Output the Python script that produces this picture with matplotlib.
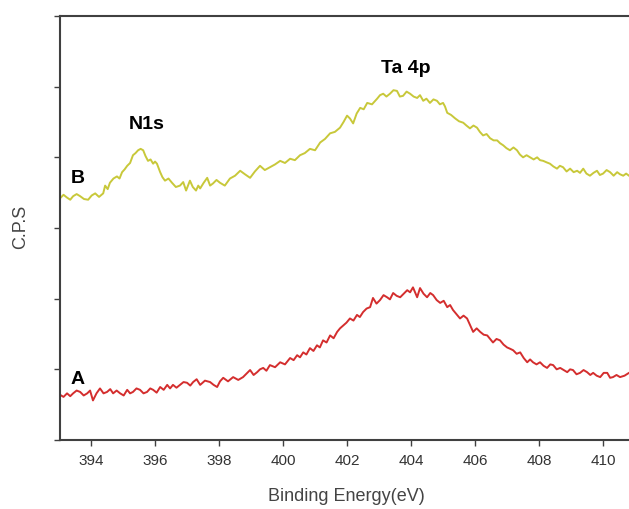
import matplotlib
matplotlib.use('Agg')
import matplotlib.pyplot as plt

# binding energy (eV) and intensity (arb. units)
energia_b = [393.03, 393.14, 393.25, 393.35, 393.44, 393.55, 393.66, 393.78, 393.91, 394.02,
             394.13, 394.25, 394.38, 394.44, 394.52, 394.59, 394.70, 394.81, 394.89, 394.97,
             395.05, 395.13, 395.22, 395.31, 395.39, 395.47, 395.55, 395.63, 395.70, 395.78,
             395.86, 395.94, 396.00, 396.06, 396.11, 396.16, 396.23, 396.31, 396.42, 396.53,
             396.65, 396.78, 396.88, 396.97, 397.03, 397.09, 397.18, 397.28, 397.35, 397.41,
             397.52, 397.63, 397.72, 397.81, 397.92, 398.03, 398.18, 398.34, 398.50, 398.66,
             398.81, 398.97, 399.12, 399.28, 399.43, 399.59, 399.75, 399.91, 400.06, 400.22,
             400.37, 400.53, 400.68, 400.84, 401.00, 401.16, 401.31, 401.47, 401.62, 401.78,
             401.89, 402.00, 402.09, 402.19, 402.30, 402.41, 402.52, 402.63, 402.78, 402.94,
             403.03, 403.13, 403.23, 403.34, 403.45, 403.56, 403.65, 403.75, 403.86, 403.97,
             404.08, 404.19, 404.28, 404.38, 404.48, 404.59, 404.70, 404.81, 404.90, 405.00,
             405.06, 405.13, 405.25, 405.38, 405.50, 405.63, 405.73, 405.84, 405.95, 406.06,
             406.15, 406.25, 406.36, 406.47, 406.58, 406.69, 406.78, 406.88, 406.98, 407.09,
             407.20, 407.31, 407.40, 407.50, 407.61, 407.72, 407.83, 407.94, 408.03, 408.13,
             408.23, 408.34, 408.45, 408.56, 408.65, 408.75, 408.86, 408.97, 409.08, 409.19,
             409.28, 409.38, 409.48, 409.59, 409.70, 409.81, 409.90, 410.00, 410.11, 410.22,
             410.33, 410.44, 410.53, 410.63, 410.72, 410.81]
cps_b = [3.42, 3.47, 3.43, 3.40, 3.45, 3.48, 3.45, 3.41, 3.40, 3.46,
         3.49, 3.44, 3.49, 3.60, 3.55, 3.64, 3.70, 3.73, 3.70, 3.79,
         3.83, 3.88, 3.92, 4.03, 4.06, 4.10, 4.12, 4.10, 4.02, 3.95,
         3.97, 3.91, 3.94, 3.91, 3.85, 3.79, 3.72, 3.67, 3.70, 3.64,
         3.58, 3.60, 3.65, 3.53, 3.60, 3.67, 3.58, 3.53, 3.60, 3.56,
         3.64, 3.71, 3.60, 3.63, 3.68, 3.64, 3.60, 3.70, 3.74, 3.81,
         3.76, 3.71, 3.80, 3.88, 3.82, 3.86, 3.90, 3.95, 3.92, 3.98,
         3.96, 4.03, 4.06, 4.12, 4.10, 4.21, 4.26, 4.34, 4.36, 4.42,
         4.50, 4.59, 4.55, 4.48, 4.62, 4.70, 4.68, 4.77, 4.75, 4.83,
         4.88, 4.90, 4.86, 4.90, 4.95, 4.94, 4.86, 4.87, 4.93, 4.90,
         4.86, 4.84, 4.88, 4.80, 4.83, 4.77, 4.82, 4.80, 4.75, 4.77,
         4.72, 4.63, 4.60, 4.55, 4.51, 4.49, 4.45, 4.41, 4.45, 4.42,
         4.36, 4.31, 4.33, 4.27, 4.24, 4.24, 4.20, 4.17, 4.13, 4.10,
         4.14, 4.10, 4.04, 4.00, 4.03, 4.00, 3.97, 4.00, 3.96, 3.95,
         3.93, 3.91, 3.87, 3.84, 3.88, 3.86, 3.80, 3.84, 3.79, 3.81,
         3.78, 3.84, 3.77, 3.74, 3.78, 3.81, 3.75, 3.77, 3.82, 3.79,
         3.74, 3.79, 3.76, 3.74, 3.77, 3.74]

energia_a = [393.03, 393.14, 393.25, 393.35, 393.44, 393.55, 393.66, 393.77, 393.88, 393.97,
             394.06, 394.17, 394.28, 394.39, 394.50, 394.60, 394.69, 394.80, 394.91, 395.02,
             395.13, 395.22, 395.31, 395.42, 395.53, 395.64, 395.75, 395.85, 395.94, 396.05,
             396.16, 396.27, 396.38, 396.47, 396.56, 396.67, 396.78, 396.89, 397.00, 397.10,
             397.19, 397.30, 397.41, 397.56, 397.72, 397.83, 397.94, 398.03, 398.13, 398.28,
             398.44, 398.60, 398.75, 398.86, 398.97, 399.08, 399.19, 399.28, 399.38, 399.48,
             399.59, 399.75, 399.91, 400.06, 400.22, 400.33, 400.44, 400.53, 400.63, 400.73,
             400.84, 400.95, 401.06, 401.15, 401.25, 401.36, 401.47, 401.58, 401.69, 401.78,
             401.88, 401.98, 402.09, 402.20, 402.31, 402.40, 402.50, 402.61, 402.72, 402.81,
             402.92, 403.03, 403.14, 403.25, 403.34, 403.44, 403.55, 403.66, 403.77, 403.88,
             403.97, 404.06, 404.19, 404.28, 404.39, 404.50, 404.60, 404.69, 404.80, 404.91,
             405.02, 405.13, 405.22, 405.31, 405.42, 405.53, 405.64, 405.75, 405.85, 405.94,
             406.05, 406.16, 406.27, 406.38, 406.47, 406.56, 406.67, 406.78, 406.89, 407.00,
             407.10, 407.19, 407.30, 407.41, 407.52, 407.63, 407.72, 407.81, 407.92, 408.03,
             408.14, 408.25, 408.35, 408.44, 408.55, 408.66, 408.77, 408.88, 408.97, 409.06,
             409.17, 409.28, 409.39, 409.50, 409.60, 409.69, 409.80, 409.91, 410.02, 410.13,
             410.22, 410.31, 410.42, 410.53, 410.67, 410.81]
cps_a = [0.64, 0.61, 0.66, 0.62, 0.66, 0.70, 0.68, 0.63, 0.66, 0.70,
         0.56, 0.66, 0.73, 0.66, 0.68, 0.72, 0.66, 0.70, 0.66, 0.63,
         0.71, 0.66, 0.68, 0.73, 0.71, 0.66, 0.68, 0.73, 0.71, 0.67,
         0.75, 0.71, 0.78, 0.73, 0.78, 0.74, 0.78, 0.82, 0.81, 0.77,
         0.82, 0.86, 0.78, 0.84, 0.82, 0.78, 0.75, 0.83, 0.88, 0.83,
         0.89, 0.85, 0.89, 0.94, 0.99, 0.92, 0.96, 1.00, 1.02, 0.98,
         1.06, 1.03, 1.10, 1.07, 1.16, 1.13, 1.20, 1.17, 1.24, 1.21,
         1.30, 1.26, 1.34, 1.31, 1.41, 1.38, 1.48, 1.44, 1.53, 1.58,
         1.62, 1.66, 1.72, 1.69, 1.77, 1.74, 1.81, 1.86, 1.88, 2.01,
         1.93, 1.98, 2.05, 2.02, 1.99, 2.08, 2.04, 2.02, 2.07, 2.12,
         2.09, 2.16, 2.02, 2.15, 2.07, 2.02, 2.08, 2.05, 1.98, 1.94,
         1.97, 1.88, 1.91, 1.84, 1.78, 1.72, 1.76, 1.72, 1.62, 1.53,
         1.58, 1.53, 1.49, 1.48, 1.43, 1.38, 1.43, 1.41, 1.35, 1.31,
         1.29, 1.27, 1.22, 1.24, 1.16, 1.10, 1.14, 1.10, 1.07, 1.10,
         1.05, 1.02, 1.07, 1.06, 1.00, 1.02, 0.99, 0.96, 1.00, 0.99,
         0.93, 0.95, 0.99, 0.96, 0.92, 0.95, 0.91, 0.89, 0.95, 0.95,
         0.88, 0.89, 0.92, 0.89, 0.91, 0.95]

ticks_x = [394, 396, 398, 400, 402, 404, 406, 408, 410]

plt.rcParams['font.family'] = ['Liberation Sans', 'DejaVu Sans']

fig = plt.figure(figsize=(6.29, 5.09), dpi=100)
ax = fig.add_axes([60 / 629, 69 / 509, 569 / 629, 424 / 509])

ax.plot(energia_b, cps_b, color='#c8c83a', linewidth=1.4)
ax.plot(energia_a, cps_a, color='#d42e2e', linewidth=1.4)

ax.set_xlim(393.03, 410.81)
ax.set_ylim(0, 6)
ax.set_xticks(ticks_x)
ax.set_yticks(range(7))
ax.set_yticklabels([])

for lado in ['left', 'bottom', 'top']:
    ax.spines[lado].set_color('#404040')
    ax.spines[lado].set_linewidth(1.5)
ax.spines['right'].set_visible(False)

ax.tick_params(axis='both', direction='out', length=4, width=1, color='#404040')
ax.tick_params(axis='x', labelsize=11, labelcolor='#333333', pad=6)

# rotulos
ax.set_xlabel('Binding Energy(eV)', fontsize=13, color='#444444')
ax.xaxis.set_label_coords(0.504, -0.134)
ax.xaxis.label.set_verticalalignment('center')
ax.set_ylabel('C.P.S', fontsize=13, color='#444444')
ax.yaxis.set_label_coords(-0.069, 0.502)
ax.yaxis.label.set_verticalalignment('center')

# picos e curvas
ax.text(403.84, 5.26, 'Ta 4p', fontsize=14, fontweight='bold', ha='center', va='center')
ax.text(395.75, 4.47, 'N1s', fontsize=14, fontweight='bold', ha='center', va='center')
ax.text(393.58, 3.70, 'B', fontsize=14, fontweight='bold', ha='center', va='center')
ax.text(393.58, 0.86, 'A', fontsize=14, fontweight='bold', ha='center', va='center')

fig.savefig('out.png', dpi=100)
